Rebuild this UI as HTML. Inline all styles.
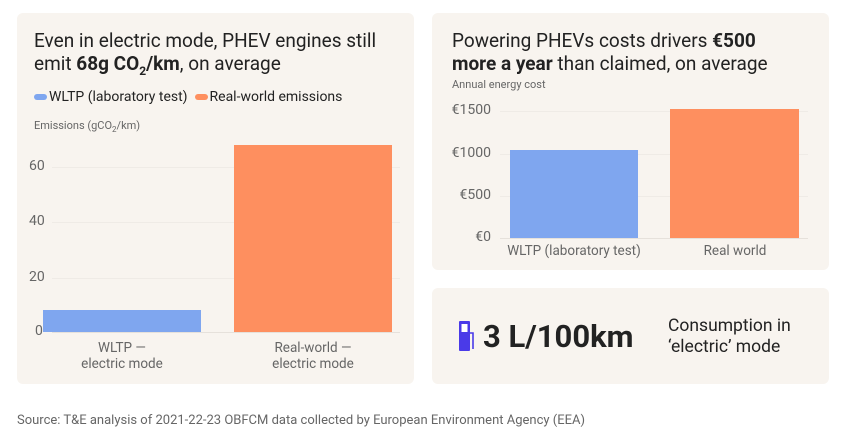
<!DOCTYPE html>
<html><head><meta charset="utf-8"><style>
*{margin:0;padding:0;box-sizing:border-box}
body{width:846px;height:423px;background:#fff;font-family:"Roboto","Liberation Sans",sans-serif;position:relative;overflow:hidden;color:#222}
.card{position:absolute;background:#f8f4ef;border-radius:6px}
.a{position:absolute;white-space:nowrap}
.g{color:#666}
.t{font-size:19px;line-height:23px;color:#222}
.grid{position:absolute;height:1px;background:#efebe6}
</style></head><body>
<div class="card" style="left:17px;top:13px;width:397px;height:371px"></div>
<div class="card" style="left:432px;top:13px;width:397px;height:257px"></div>
<div class="card" style="left:432px;top:288px;width:397px;height:96px"></div>

<div class="a t" style="left:34px;top:29px">Even in electric mode, PHEV engines still</div>
<div class="a t" style="left:34px;top:52px">emit <b>68g CO<sub style="font-size:12px">2</sub>/km</b>, on average</div>
<div class="a" style="left:34px;top:89px;font-size:14px"><span style="display:inline-block;width:13px;height:6px;border-radius:3px;background:#7fa6ef;vertical-align:middle;margin-right:2px"></span>WLTP (laboratory test) &nbsp;<span style="display:inline-block;width:13px;height:6px;border-radius:3px;background:#fe8f5f;vertical-align:middle;margin-right:2px"></span>Real-world emissions</div>
<div class="a g" style="left:34px;top:119px;font-size:11px">Emissions (gCO<sub style="font-size:8px">2</sub>/km)</div>
<div class="grid" style="left:52px;width:348px;top:167px"></div>
<div class="grid" style="left:52px;width:348px;top:222px"></div>
<div class="grid" style="left:52px;width:348px;top:278px"></div>
<div class="grid" style="left:52px;width:348px;top:332px;background:#e6e1db"></div>
<div class="a g" style="left:29px;top:158px;font-size:14px">60</div>
<div class="a g" style="left:29px;top:213px;font-size:14px">40</div>
<div class="a g" style="left:29px;top:269px;font-size:14px">20</div>
<div class="a g" style="left:35px;top:323px;font-size:14px">0</div>
<div class="a" style="left:43px;top:310px;width:158px;height:22px;background:#7fa6ef"></div>
<div class="a" style="left:234px;top:145px;width:158px;height:187px;background:#fe8f5f"></div>
<div class="a g" style="left:43px;width:158px;top:340px;font-size:13.5px;text-align:center;line-height:16px">WLTP —<br>electric mode</div>
<div class="a g" style="left:209px;width:208px;top:340px;font-size:13.5px;text-align:center;line-height:16px">Real-world —<br>electric mode</div>

<div class="a t" style="left:452px;top:29px">Powering PHEVs costs drivers <b>€500</b></div>
<div class="a t" style="left:452px;top:52px"><b>more a year</b> than claimed, on average</div>
<div class="a g" style="left:452px;top:78px;font-size:11px">Annual energy cost</div>
<div class="grid" style="left:500px;width:308px;top:111px"></div>
<div class="grid" style="left:500px;width:308px;top:154px"></div>
<div class="grid" style="left:500px;width:308px;top:196px"></div>
<div class="grid" style="left:500px;width:308px;top:238px;background:#e6e1db"></div>
<div class="a g" style="left:446px;width:45px;text-align:right;top:102px;font-size:14px">€1500</div>
<div class="a g" style="left:446px;width:45px;text-align:right;top:145px;font-size:14px">€1000</div>
<div class="a g" style="left:446px;width:45px;text-align:right;top:187px;font-size:14px">€500</div>
<div class="a g" style="left:446px;width:45px;text-align:right;top:229px;font-size:14px">€0</div>
<div class="a" style="left:510px;top:150px;width:128px;height:88px;background:#7fa6ef"></div>
<div class="a" style="left:670px;top:109px;width:129px;height:129px;background:#fe8f5f"></div>
<div class="a g" style="left:474px;width:200px;top:243px;font-size:13.5px;text-align:center">WLTP (laboratory test)</div>
<div class="a g" style="left:655px;width:160px;top:243px;font-size:13.5px;text-align:center">Real world</div>

<svg class="a" style="left:459px;top:321px" width="16" height="30" viewBox="0 0 16 30"><rect x="0" y="0" width="11" height="30" rx="1" fill="#4a3ae8"/><rect x="2.5" y="3" width="6" height="8" fill="#fff"/><path d="M11 12 h3 v16" stroke="#4a3ae8" stroke-width="1.6" fill="none"/></svg>
<div class="a" style="left:483px;top:318px;font-size:31px;font-weight:bold;color:#222">3 L/100km</div>
<div class="a" style="left:668px;top:316px;font-size:17.5px;line-height:21px;color:#222">Consumption in<br>‘electric’ mode</div>

<div class="a g" style="left:17px;top:414px;font-size:13px;line-height:13px">Source: T&amp;E analysis of 2021-22-23 OBFCM data collected by European Environment Agency (EEA)</div>
</body></html>
